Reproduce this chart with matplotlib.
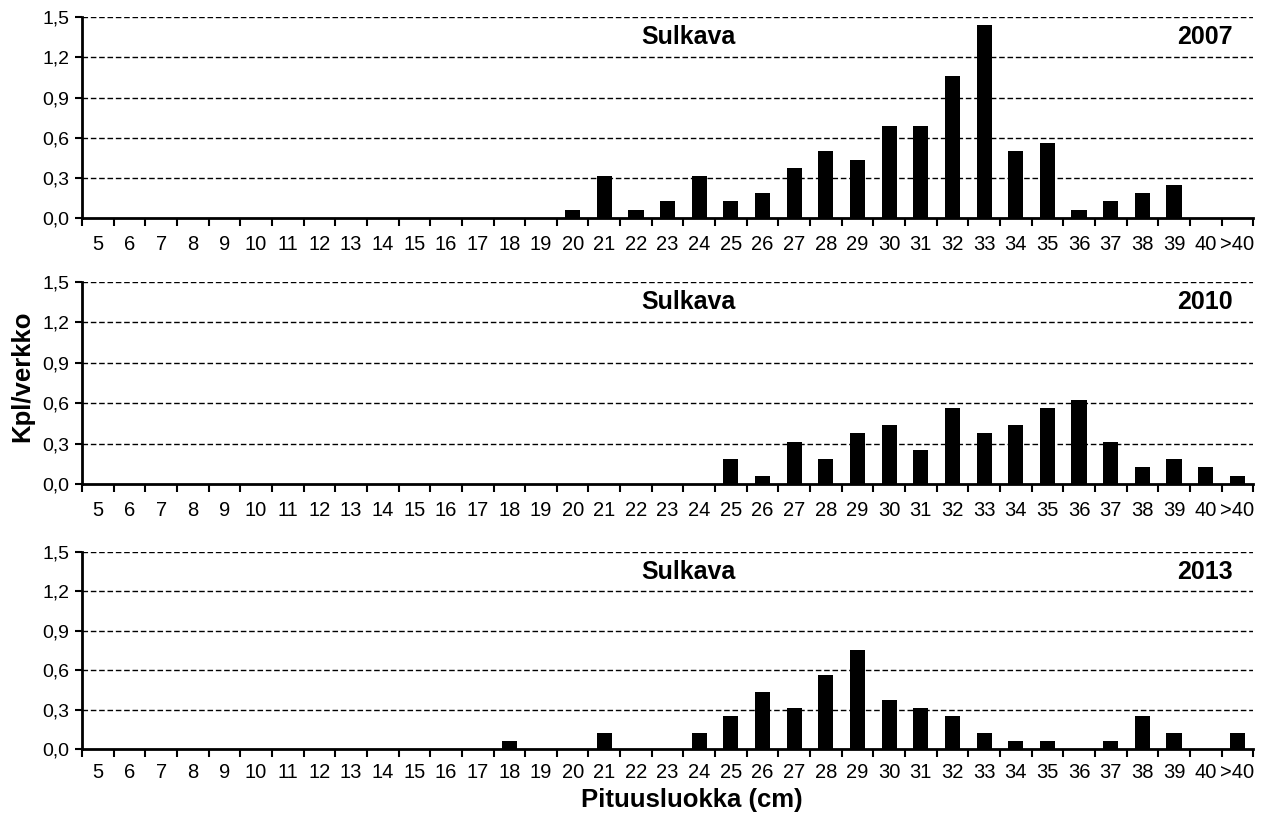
import numpy as np
import matplotlib
matplotlib.use("Agg")
import matplotlib.pyplot as plt
from matplotlib.ticker import FuncFormatter, FixedLocator

plt.rcParams["font.family"] = ["Liberation Sans", "DejaVu Sans"]

# length classes
categories = [str(c) for c in range(5, 41)] + [">40"]

# catch per net (Kpl/verkko)
values_2007 = [0, 0, 0, 0, 0, 0, 0, 0, 0, 0, 0, 0, 0, 0, 0,
               0.0625, 0.3125, 0.0625, 0.125, 0.3125, 0.125, 0.1875, 0.375, 0.5,
               0.4375, 0.6875, 0.6875, 1.0625, 1.4375, 0.5, 0.5625, 0.0625,
               0.125, 0.1875, 0.25, 0, 0]
values_2010 = [0, 0, 0, 0, 0, 0, 0, 0, 0, 0, 0, 0, 0, 0, 0,
               0, 0, 0, 0, 0, 0.1875, 0.0625, 0.3125, 0.1875,
               0.375, 0.4375, 0.25, 0.5625, 0.375, 0.4375, 0.5625, 0.625,
               0.3125, 0.125, 0.1875, 0.125, 0.0625]
values_2013 = [0, 0, 0, 0, 0, 0, 0, 0, 0, 0, 0, 0, 0,
               0.0625, 0, 0, 0.125, 0, 0, 0.125, 0.25, 0.4375, 0.3125, 0.5625,
               0.75, 0.375, 0.3125, 0.25, 0.125, 0.0625, 0.0625, 0,
               0.0625, 0.25, 0.125, 0, 0.125]

years = ["2007", "2010", "2013"]
series = [values_2007, values_2010, values_2013]
site = "Sulkava"
y_ticks = [0.0, 0.3, 0.6, 0.9, 1.2, 1.5]

fig = plt.figure(figsize=(12.62, 8.14), dpi=100)

# axes boxes [left, bottom, width, height] in figure fractions
boxes = [[0.065, 0.732, 0.928, 0.247],
         [0.065, 0.4054, 0.928, 0.2482],
         [0.065, 0.0799, 0.928, 0.242]]
label_pads = [12, 12, 10]

x = np.arange(len(categories))
for box, vals, year, lpad in zip(boxes, series, years, label_pads):
    ax = fig.add_axes(box)

    # dashed gridlines behind bars
    for yt in y_ticks[1:]:
        ax.axhline(yt, color="black", lw=1.0, ls=(0, (4, 2)), zorder=0)

    ax.bar(x, vals, width=0.48, color="black", zorder=2)

    ax.set_xlim(-0.5, len(categories) - 0.5)
    ax.set_ylim(0, 1.5)
    ax.set_yticks(y_ticks)
    ax.yaxis.set_major_formatter(FuncFormatter(lambda v, pos: f"{v:.1f}".replace(".", ",")))

    # category labels centered, tick marks at boundaries (Excel style)
    ax.set_xticks(x)
    ax.set_xticklabels(categories)
    ax.tick_params(axis="x", which="major", length=0, labelsize=14.5, pad=lpad)
    ax.xaxis.set_minor_locator(FixedLocator(np.arange(-0.5, len(categories), 1.0)))
    ax.tick_params(axis="x", which="minor", length=6, width=1.5, direction="out")
    ax.tick_params(axis="y", length=5, width=1.5, labelsize=14, pad=4)

    for side in ["top", "right"]:
        ax.spines[side].set_visible(False)
    for side in ["left", "bottom"]:
        ax.spines[side].set_linewidth(2)
        ax.spines[side].set_zorder(3)

    ax.text(18.65, 1.35, site, ha="center", va="center", fontsize=18, fontweight="bold")
    ax.text(35.85, 1.35, year, ha="right", va="center", fontsize=18, fontweight="bold")

fig.text(0.018, 0.538, "Kpl/verkko", rotation=90, ha="center", va="center",
         fontsize=18.5, fontweight="bold")
fig.text(0.548, 0.017, "Pituusluokka (cm)", ha="center", va="center",
         fontsize=18.5, fontweight="bold")

plt.savefig("out.png", dpi=100)
